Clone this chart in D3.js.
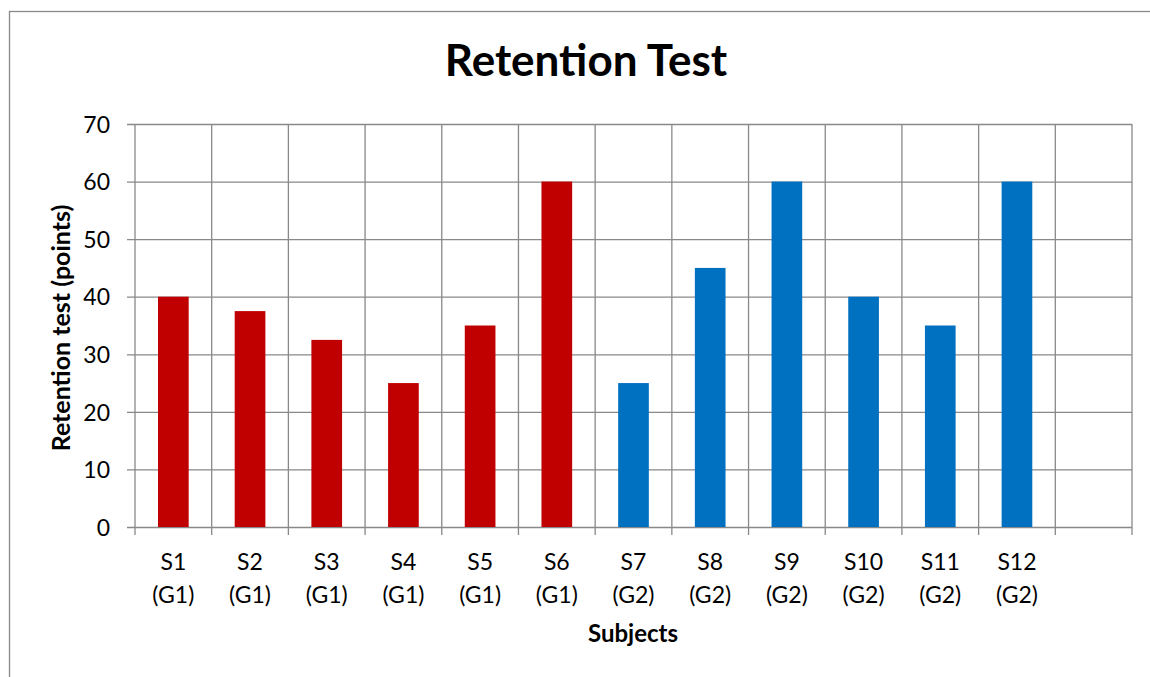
<!DOCTYPE html>
<html>
<head>
<meta charset="utf-8">
<script src="https://cdn.jsdelivr.net/npm/d3@7"></script>
<style>
  html, body { margin: 0; padding: 0; background: #fff; }
  svg { display: block; font-family: Lato, "Open Sans", sans-serif; }
</style>
</head>
<body>
<svg id="chart" width="1150" height="677"></svg>
<script>
// Subjects, their groups and retention scores
const subjects = ["S1", "S2", "S3", "S4", "S5", "S6", "S7", "S8", "S9", "S10", "S11", "S12"];
const groups   = ["G1", "G1", "G1", "G1", "G1", "G1", "G2", "G2", "G2", "G2", "G2", "G2"];
const scores   = [40, 37.5, 32.5, 25, 35, 60, 25, 45, 60, 40, 35, 60];
const yTicks   = [0, 10, 20, 30, 40, 50, 60, 70];
const groupColors = { G1: "#C00000", G2: "#0070C0" };

const svg = d3.select("#chart");
const margin = { left: 135, right: 1132, top: 124, bottom: 527 };

// One extra empty slot at the end of the category axis
const slots = subjects.concat([""]);
const x = d3.scaleBand().domain(slots.map((d, i) => i)).range([margin.left, margin.right]).padding(0);
const y = d3.scaleLinear().domain([0, 70]).range([margin.bottom, margin.top]);

const gridColor = "#898989";

// Outer chart frame
svg.append("rect")
  .attr("x", 9.5).attr("y", 11.5)
  .attr("width", 1160).attr("height", 700)
  .attr("fill", "none").attr("stroke", gridColor).attr("stroke-width", 1.3);

// Horizontal gridlines with left tick labels
const yAxis = d3.axisLeft(y).tickValues(yTicks).tickSize(-(margin.right - margin.left) - 8).tickSizeOuter(0);
const gy = svg.append("g").attr("transform", `translate(${margin.left - 8},0)`).call(yAxis)
  .attr("font-family", null).attr("font-size", null);
gy.select(".domain").remove();
gy.selectAll(".tick line").attr("stroke", gridColor).attr("stroke-width", 1.3);
gy.selectAll(".tick text").attr("font-size", 23).attr("fill", "#000").attr("x", -17).attr("dy", "0.36em");

// Vertical gridlines at category boundaries, extending below the axis as tick marks
const bounds = d3.range(slots.length + 1).map(i => i === slots.length ? x.range()[1] : x(i));
svg.append("g").selectAll("line").data(bounds).join("line")
  .attr("x1", d => d).attr("x2", d => d)
  .attr("y1", margin.top).attr("y2", margin.bottom + 8)
  .attr("stroke", gridColor).attr("stroke-width", 1.3);

// Bars
const barW = x.bandwidth() * 0.4;
svg.append("g").selectAll("rect").data(scores).join("rect")
  .attr("x", (d, i) => x(i) + (x.bandwidth() - barW) / 2)
  .attr("y", d => y(d))
  .attr("width", barW)
  .attr("height", d => y(0) - y(d))
  .attr("fill", (d, i) => groupColors[groups[i]]);

// Category labels on two lines
const xl = svg.append("g").selectAll("text").data(subjects).join("text")
  .attr("text-anchor", "middle")
  .attr("font-size", 23)
  .attr("fill", "#000");
xl.append("tspan").attr("x", (d, i) => x(i) + x.bandwidth() / 2).attr("y", 570).text(d => d);
xl.append("tspan").attr("x", (d, i) => x(i) + x.bandwidth() / 2).attr("y", 603).text((d, i) => `(${groups[i]})`);

// Title
svg.append("text")
  .attr("x", 586).attr("y", 76)
  .attr("text-anchor", "middle")
  .attr("font-size", 44).attr("font-weight", "bold")
  .text("Retention Test");

// Axis titles
svg.append("text")
  .attr("x", 633).attr("y", 642)
  .attr("text-anchor", "middle")
  .attr("font-size", 24).attr("font-weight", "bold")
  .text("Subjects");

svg.append("text")
  .attr("transform", "translate(70,328) rotate(-90)")
  .attr("text-anchor", "middle")
  .attr("font-size", 25).attr("font-weight", "bold")
  .text("Retention test (points)");
</script>
</body>
</html>
